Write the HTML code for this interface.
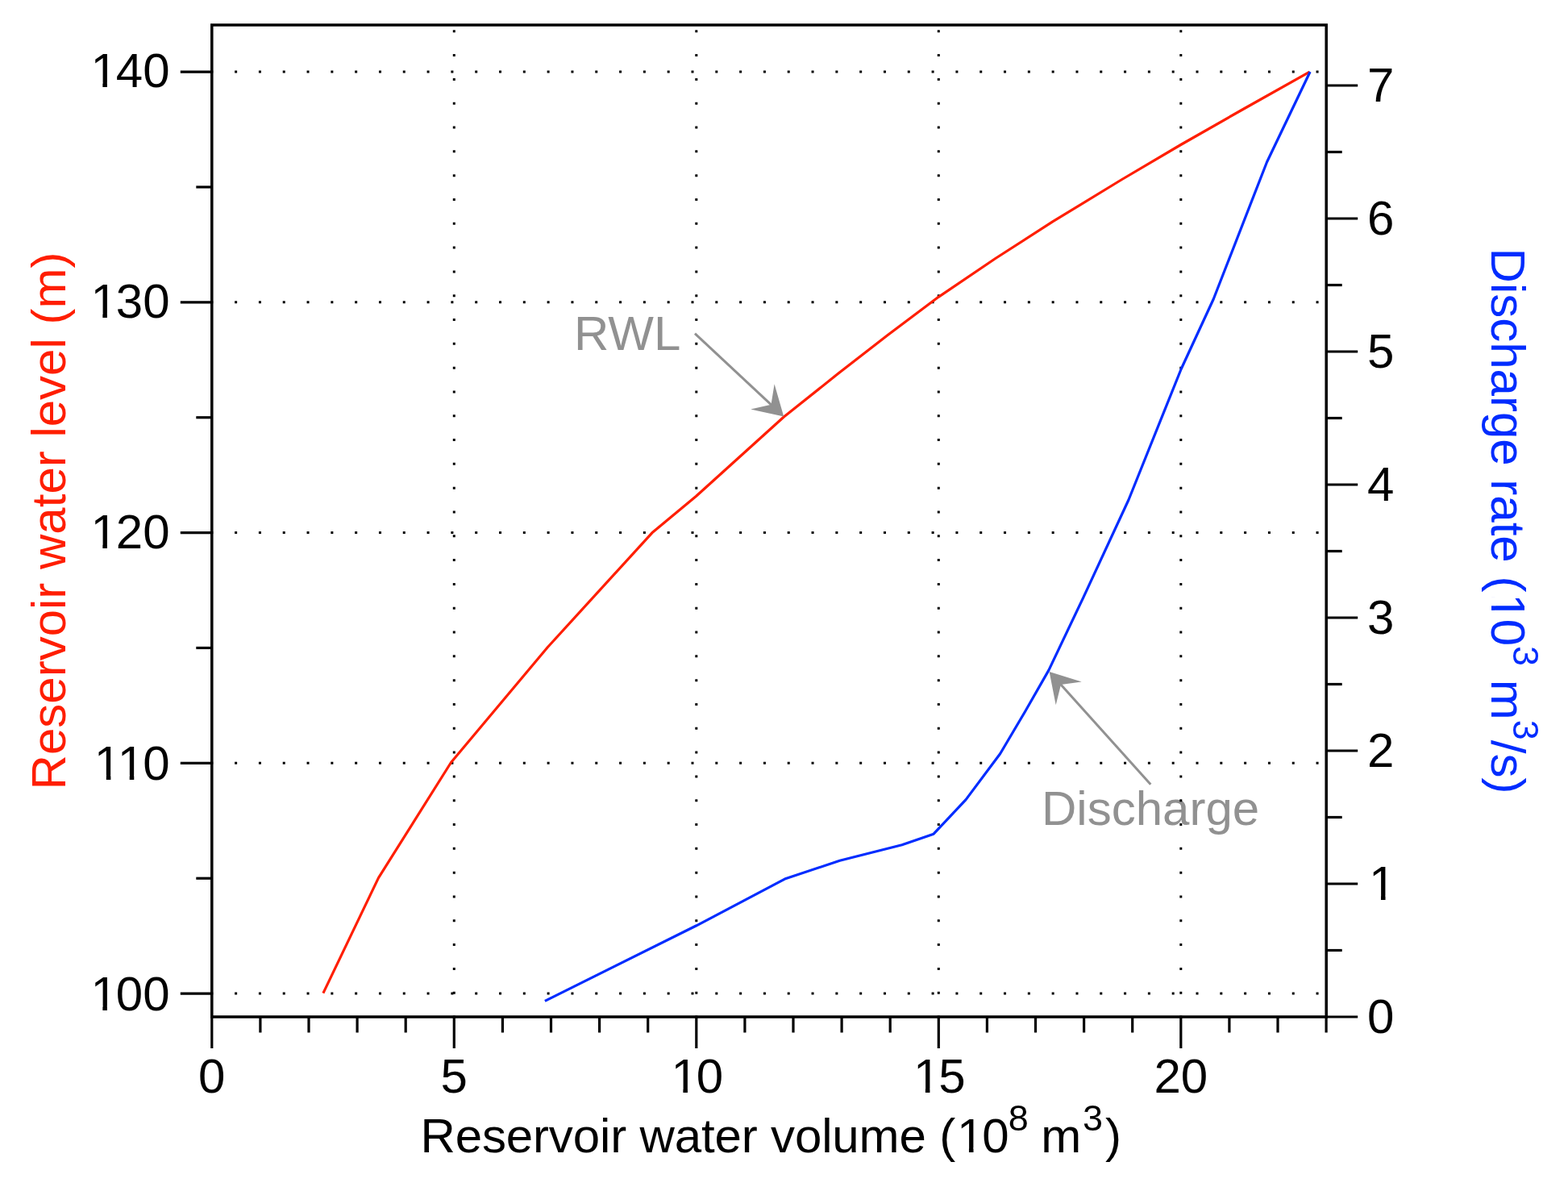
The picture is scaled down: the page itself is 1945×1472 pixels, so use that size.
<!DOCTYPE html>
<html><head><meta charset="utf-8"><title>Reservoir chart</title>
<style>html,body{margin:0;padding:0;background:#fff;}svg{display:block;}</style>
</head><body>
<svg width="1945" height="1472" viewBox="0 0 1945 1472">
<rect width="1945" height="1472" fill="#fff"/>
<g font-family="'Liberation Sans', Arial, Helvetica, sans-serif" font-size="60" fill="#919191">
<text x="712" y="434.3">RWL</text>
<text x="1292" y="1022.8">Discharge</text>
</g>
<g stroke="#000" stroke-width="3" stroke-dasharray="3 26.81" fill="none">
<line x1="261.30" y1="1232.10" x2="1645.20" y2="1232.10"/>
<line x1="261.30" y1="946.35" x2="1645.20" y2="946.35"/>
<line x1="261.30" y1="660.60" x2="1645.20" y2="660.60"/>
<line x1="261.30" y1="374.85" x2="1645.20" y2="374.85"/>
<line x1="261.30" y1="89.10" x2="1645.20" y2="89.10"/>
<line x1="563.30" y1="1262.50" x2="563.30" y2="31.00"/>
<line x1="863.80" y1="1262.50" x2="863.80" y2="31.00"/>
<line x1="1164.30" y1="1262.50" x2="1164.30" y2="31.00"/>
<line x1="1464.80" y1="1262.50" x2="1464.80" y2="31.00"/>
</g>
<polyline points="400.9,1231.6 469.5,1088.6 559.5,945.5 679.0,803.0 808.8,660.8 863.6,615.3 972.3,517.0 1040.0,463.1 1101.2,415.5 1164.1,368.3 1234.8,320.5 1306.1,274.7 1390.9,223.0 1464.7,179.5 1542.8,135.0 1624.5,89.2" fill="none" stroke="#ff1e00" stroke-width="3.2" stroke-linejoin="round"/>
<polyline points="675.9,1241.4 864.0,1147.8 973.4,1090.1 1041.7,1067.2 1118.8,1047.8 1158.1,1034.2 1198.1,991.6 1240.6,934.8 1271.8,882.0 1300.9,831.1 1344.2,740.1 1399.9,620.0 1465.2,457.5 1505.2,371.0 1571.5,201.0 1625.1,89.0" fill="none" stroke="#002cff" stroke-width="3.2" stroke-linejoin="round"/>
<line x1="862.0" y1="413.6" x2="957.9" y2="503.2" stroke="#919191" stroke-width="3"/><path d="M972.2,516.5 L931.2,507.6 L956.5,501.8 L960.6,476.2 Z" fill="#919191"/>
<line x1="1427.3" y1="972.7" x2="1314.6" y2="847.6" stroke="#919191" stroke-width="3"/><path d="M1301.6,833.1 L1341.7,845.5 L1316.0,849.1 L1309.7,874.2 Z" fill="#919191"/>
<rect x="262.8" y="31.0" width="1382.4" height="1230.0" fill="none" stroke="#000" stroke-width="3.5"/>
<g stroke="#000" stroke-width="3.2">
<line x1="223.8" y1="1232.10" x2="262.8" y2="1232.10"/>
<line x1="243.3" y1="1089.22" x2="262.8" y2="1089.22"/>
<line x1="223.8" y1="946.35" x2="262.8" y2="946.35"/>
<line x1="243.3" y1="803.47" x2="262.8" y2="803.47"/>
<line x1="223.8" y1="660.60" x2="262.8" y2="660.60"/>
<line x1="243.3" y1="517.72" x2="262.8" y2="517.72"/>
<line x1="223.8" y1="374.85" x2="262.8" y2="374.85"/>
<line x1="243.3" y1="231.97" x2="262.8" y2="231.97"/>
<line x1="223.8" y1="89.10" x2="262.8" y2="89.10"/>
<line x1="1645.2" y1="1261.00" x2="1684.2" y2="1261.00"/>
<line x1="1645.2" y1="1178.50" x2="1664.7" y2="1178.50"/>
<line x1="1645.2" y1="1096.00" x2="1684.2" y2="1096.00"/>
<line x1="1645.2" y1="1013.50" x2="1664.7" y2="1013.50"/>
<line x1="1645.2" y1="931.00" x2="1684.2" y2="931.00"/>
<line x1="1645.2" y1="848.50" x2="1664.7" y2="848.50"/>
<line x1="1645.2" y1="766.00" x2="1684.2" y2="766.00"/>
<line x1="1645.2" y1="683.50" x2="1664.7" y2="683.50"/>
<line x1="1645.2" y1="601.00" x2="1684.2" y2="601.00"/>
<line x1="1645.2" y1="518.50" x2="1664.7" y2="518.50"/>
<line x1="1645.2" y1="436.00" x2="1684.2" y2="436.00"/>
<line x1="1645.2" y1="353.50" x2="1664.7" y2="353.50"/>
<line x1="1645.2" y1="271.00" x2="1684.2" y2="271.00"/>
<line x1="1645.2" y1="188.50" x2="1664.7" y2="188.50"/>
<line x1="1645.2" y1="106.00" x2="1684.2" y2="106.00"/>
<line x1="262.80" y1="1261.0" x2="262.80" y2="1300.0"/>
<line x1="322.90" y1="1261.0" x2="322.90" y2="1280.5"/>
<line x1="383.00" y1="1261.0" x2="383.00" y2="1280.5"/>
<line x1="443.10" y1="1261.0" x2="443.10" y2="1280.5"/>
<line x1="503.20" y1="1261.0" x2="503.20" y2="1280.5"/>
<line x1="563.30" y1="1261.0" x2="563.30" y2="1300.0"/>
<line x1="623.40" y1="1261.0" x2="623.40" y2="1280.5"/>
<line x1="683.50" y1="1261.0" x2="683.50" y2="1280.5"/>
<line x1="743.60" y1="1261.0" x2="743.60" y2="1280.5"/>
<line x1="803.70" y1="1261.0" x2="803.70" y2="1280.5"/>
<line x1="863.80" y1="1261.0" x2="863.80" y2="1300.0"/>
<line x1="923.90" y1="1261.0" x2="923.90" y2="1280.5"/>
<line x1="984.00" y1="1261.0" x2="984.00" y2="1280.5"/>
<line x1="1044.10" y1="1261.0" x2="1044.10" y2="1280.5"/>
<line x1="1104.20" y1="1261.0" x2="1104.20" y2="1280.5"/>
<line x1="1164.30" y1="1261.0" x2="1164.30" y2="1300.0"/>
<line x1="1224.40" y1="1261.0" x2="1224.40" y2="1280.5"/>
<line x1="1284.50" y1="1261.0" x2="1284.50" y2="1280.5"/>
<line x1="1344.60" y1="1261.0" x2="1344.60" y2="1280.5"/>
<line x1="1404.70" y1="1261.0" x2="1404.70" y2="1280.5"/>
<line x1="1464.80" y1="1261.0" x2="1464.80" y2="1300.0"/>
<line x1="1524.90" y1="1261.0" x2="1524.90" y2="1280.5"/>
<line x1="1585.00" y1="1261.0" x2="1585.00" y2="1280.5"/>
<line x1="1645.10" y1="1261.0" x2="1645.10" y2="1280.5"/>
</g>
<g font-family="'Liberation Sans', Arial, Helvetica, sans-serif" font-size="60" fill="#000">
<text x="112.39 143.76 177.13" y="1252.6">100</text>
<text x="116.85 145.76 177.13" y="966.5">110</text>
<text x="112.39 143.76 177.13" y="680.3">120</text>
<text x="112.39 143.76 177.13" y="394.1">130</text>
<text x="112.39 143.76 177.13" y="107.9">140</text>
<text x="1696.00" y="1281.3">0</text>
<text x="1698.00" y="1116.2">1</text>
<text x="1696.00" y="951.1">2</text>
<text x="1696.00" y="786.0">3</text>
<text x="1696.00" y="620.9">4</text>
<text x="1696.00" y="455.7">5</text>
<text x="1696.00" y="290.6">6</text>
<text x="1696.00" y="125.5">7</text>
<text x="246.12" y="1355.3">0</text>
<text x="546.62" y="1355.3">5</text>
<text x="832.43 863.80" y="1355.3">10</text>
<text x="1132.93 1164.30" y="1355.3">15</text>
<text x="1431.43 1464.80" y="1355.3">20</text>
</g>
<text x="521.5" y="1428.8" font-family="'Liberation Sans', Arial, Helvetica, sans-serif" font-size="60" fill="#000"><tspan letter-spacing="-0.14">Reservoir water volume (</tspan><tspan x="1186.98">1</tspan><tspan x="1218.21">0</tspan><tspan x="1250.8" font-size="45" dy="-27">8</tspan><tspan x="1274.5" dy="27"> m</tspan><tspan x="1343" font-size="45" dy="-27">3</tspan><tspan x="1371" dy="27">)</tspan></text>
<text transform="translate(80.9,646) rotate(-90)" font-family="'Liberation Sans', Arial, Helvetica, sans-serif" font-size="60" fill="#ff1e00" text-anchor="middle">Reservoir water level (m)</text>
<text transform="translate(1849.7,646) rotate(90)" x="-338.46" font-family="'Liberation Sans', Arial, Helvetica, sans-serif" font-size="60" fill="#002cff">Discharge rate (<tspan x="90.34">1</tspan><tspan x="121.71">0</tspan><tspan font-size="45" dy="-27">3</tspan><tspan dy="27"> m</tspan><tspan font-size="45" dy="-27">3</tspan><tspan dy="27">/s)</tspan></text>
<rect x="116.20" y="1247.22" width="11.16" height="6.68" fill="#fff"/>
<rect x="132.90" y="1247.22" width="10.69" height="6.68" fill="#fff"/>
<rect x="120.66" y="961.12" width="11.16" height="6.68" fill="#fff"/>
<rect x="137.36" y="961.12" width="10.69" height="6.68" fill="#fff"/>
<rect x="149.57" y="961.12" width="11.16" height="6.68" fill="#fff"/>
<rect x="166.27" y="961.12" width="10.69" height="6.68" fill="#fff"/>
<rect x="116.20" y="674.92" width="11.16" height="6.68" fill="#fff"/>
<rect x="132.90" y="674.92" width="10.69" height="6.68" fill="#fff"/>
<rect x="116.20" y="388.72" width="11.16" height="6.68" fill="#fff"/>
<rect x="132.90" y="388.72" width="10.69" height="6.68" fill="#fff"/>
<rect x="116.20" y="102.52" width="11.16" height="6.68" fill="#fff"/>
<rect x="132.90" y="102.52" width="10.69" height="6.68" fill="#fff"/>
<rect x="1701.81" y="1110.82" width="11.16" height="6.68" fill="#fff"/>
<rect x="1718.51" y="1110.82" width="10.69" height="6.68" fill="#fff"/>
<rect x="836.24" y="1349.92" width="11.16" height="6.68" fill="#fff"/>
<rect x="852.94" y="1349.92" width="10.69" height="6.68" fill="#fff"/>
<rect x="1136.74" y="1349.92" width="11.16" height="6.68" fill="#fff"/>
<rect x="1153.44" y="1349.92" width="10.69" height="6.68" fill="#fff"/>
<rect x="1190.79" y="1423.42" width="11.16" height="6.68" fill="#fff"/>
<rect x="1207.49" y="1423.42" width="10.69" height="6.68" fill="#fff"/>
<g transform="translate(1849.7,646) rotate(90)"><rect x="94.15" y="-5.38" width="11.16" height="6.68" fill="#fff"/><rect x="110.85" y="-5.38" width="10.69" height="6.68" fill="#fff"/></g>
</svg>
</body></html>
